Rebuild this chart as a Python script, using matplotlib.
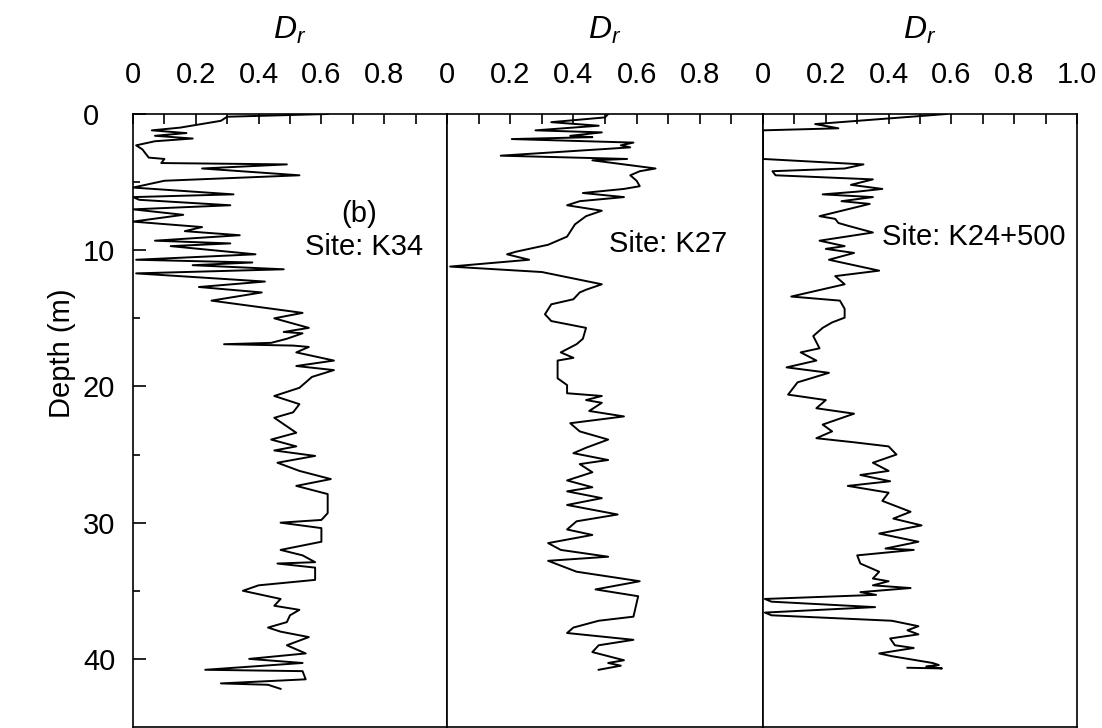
import matplotlib.pyplot as plt

plt.rcParams['font.family'] = ['Liberation Sans', 'DejaVu Sans']
plt.rcParams['mathtext.fontset'] = 'custom'
plt.rcParams['mathtext.it'] = 'Liberation Sans:italic'
plt.rcParams['mathtext.rm'] = 'Liberation Sans'

# Site K34 (depth in m, relative density Dr)
k34_depth = [0.0, 0.2, 0.5, 1.0, 1.2, 1.4, 1.6, 1.8, 2.0, 2.3, 2.6, 2.9, 3.2, 3.3, 3.6, 3.7,
             4.0, 4.5, 4.9, 5.4, 5.9, 6.1, 6.3, 6.7, 7.0, 7.4, 7.9, 8.3, 8.6, 8.9, 9.3, 9.5,
             9.7, 10.3, 10.7, 10.9, 11.1, 11.4, 11.7, 12.3, 12.7, 13.1, 13.7, 14.6, 15.0, 15.7,
             16.0, 16.1, 16.5, 16.8, 16.9, 17.0, 17.1, 17.5, 18.1, 18.5, 18.8, 19.3, 20.1, 20.7,
             21.3, 21.9, 22.3, 23.4, 23.9, 24.4, 24.7, 25.1, 25.6, 26.2, 26.8, 27.3, 27.9, 29.3,
             29.8, 30.0, 30.4, 31.4, 32.0, 32.4, 32.9, 33.0, 33.3, 34.2, 34.6, 35.0, 35.2, 35.6,
             36.1, 36.4, 36.8, 37.3, 37.7, 38.0, 38.4, 39.0, 39.6, 40.0, 40.3, 40.8, 40.9, 41.5,
             41.8, 41.9, 42.2]
k34_dr = [0.62, 0.30, 0.28, 0.15, 0.06, 0.17, 0.07, 0.19, 0.07, 0.01, 0.03, 0.04, 0.05, 0.10, 0.09, 0.49,
          0.22, 0.53, 0.10, 0.0, 0.32, 0.0, 0.02, 0.31, 0.0, 0.16, 0.0, 0.22, 0.165, 0.34, 0.07, 0.31,
          0.12, 0.39, 0.01, 0.38, 0.19, 0.48, 0.01, 0.42, 0.21, 0.41, 0.25, 0.54, 0.45, 0.56,
          0.48, 0.54, 0.49, 0.44, 0.29, 0.51, 0.56, 0.52, 0.64, 0.52, 0.64, 0.57, 0.53, 0.45,
          0.53, 0.51, 0.45, 0.52, 0.44, 0.52, 0.45, 0.58, 0.46, 0.53, 0.63, 0.52, 0.62, 0.62,
          0.60, 0.47, 0.60, 0.60, 0.47, 0.54, 0.58, 0.46, 0.58, 0.58, 0.40, 0.35, 0.39, 0.47,
          0.45, 0.53, 0.50, 0.49, 0.43, 0.47, 0.56, 0.49, 0.55, 0.37, 0.54, 0.23, 0.54, 0.55,
          0.28, 0.43, 0.47]

# Site K27
k27_depth = [0.0, 0.25, 0.6, 0.86, 1.2, 1.35, 1.6, 1.7, 1.84, 2.1, 2.3, 2.45, 3.06, 3.3, 3.4, 4.0,
             4.2, 4.5, 4.9, 5.3, 5.5, 5.8, 6.1, 6.4, 6.7, 7.1, 7.5, 8.1, 9.0, 9.6, 10.1, 10.3,
             10.7, 11.2, 11.6, 12.5, 12.9, 13.1, 13.6, 13.97, 14.7, 15.2, 15.7, 16.5, 16.9, 17.5,
             17.9, 18.1, 19.4, 19.9, 20.5, 20.7, 21.0, 21.2, 21.8, 22.2, 22.7, 23.3, 23.9, 24.5,
             24.9, 25.4, 25.7, 26.3, 26.9, 27.4, 27.7, 28.2, 28.7, 29.4, 29.9, 30.5, 30.9, 31.5,
             32.0, 32.5, 32.8, 33.6, 34.3, 34.9, 35.4, 36.9, 37.2, 37.7, 38.1, 38.6, 39.0, 39.5,
             40.1, 40.3, 40.5, 40.8]
k27_dr = [0.51, 0.50, 0.33, 0.48, 0.28, 0.49, 0.39, 0.46, 0.205, 0.59, 0.55, 0.58, 0.17, 0.57, 0.46, 0.66,
          0.61, 0.58, 0.60, 0.61, 0.56, 0.43, 0.56, 0.42, 0.38, 0.49, 0.44, 0.405, 0.38, 0.32, 0.22, 0.19,
          0.26, 0.01, 0.30, 0.49, 0.44, 0.42, 0.40, 0.33, 0.31, 0.33, 0.44, 0.43, 0.41, 0.36,
          0.40, 0.35, 0.35, 0.38, 0.38, 0.49, 0.44, 0.49, 0.45, 0.56, 0.39, 0.42, 0.51, 0.44,
          0.40, 0.51, 0.42, 0.46, 0.38, 0.46, 0.38, 0.49, 0.38, 0.54, 0.41, 0.38, 0.46, 0.32,
          0.36, 0.51, 0.32, 0.41, 0.61, 0.47, 0.605, 0.59, 0.48, 0.40, 0.38, 0.59, 0.48, 0.46,
          0.56, 0.51, 0.55, 0.48]

# Site K24+500
k24_depth = [0.0, 0.74, 1.05, 1.2, 3.3, 3.7, 4.0, 4.2, 4.5, 4.8, 5.2, 5.5, 5.7, 5.9, 6.1, 6.4,
             6.6, 7.5, 7.7, 8.0, 8.2, 8.7, 9.3, 9.7, 9.9, 10.2, 10.7, 11.5, 11.9, 12.5, 13.4, 13.7,
             14.3, 14.95, 15.3, 15.7, 16.3, 17.2, 17.5, 18.1, 18.6, 19.0, 19.7, 20.6, 21.0, 21.6,
             22.0, 22.8, 23.3, 23.8, 24.1, 24.4, 25.0, 25.6, 26.2, 26.5, 26.96, 27.3, 27.8, 28.4,
             29.2, 29.7, 30.2, 30.8, 31.4, 31.9, 32.0, 32.4, 33.0, 33.6, 34.1, 34.3, 34.6, 34.8,
             35.1, 35.3, 35.6, 35.8, 36.2, 36.6, 36.8, 37.2, 37.6, 37.9, 38.2, 38.5, 39.0, 39.2,
             39.6, 39.8, 40.3, 40.45, 40.55, 40.7, 40.65]
k24_dr = [0.585, 0.166, 0.24, 0.0, 0.0, 0.32, 0.26, 0.03, 0.04, 0.35, 0.28, 0.38, 0.30, 0.19, 0.35, 0.25,
          0.34, 0.18, 0.23, 0.24, 0.27, 0.35, 0.18, 0.26, 0.20, 0.29, 0.21, 0.37, 0.23, 0.26, 0.09, 0.245,
          0.26, 0.26, 0.22, 0.19, 0.16, 0.18, 0.12, 0.17, 0.075, 0.21, 0.11, 0.08, 0.20, 0.17,
          0.29, 0.19, 0.22, 0.17, 0.29, 0.40, 0.425, 0.35, 0.40, 0.31, 0.405, 0.27, 0.40, 0.38,
          0.47, 0.415, 0.505, 0.37, 0.495, 0.39, 0.48, 0.30, 0.31, 0.37, 0.35, 0.40, 0.35, 0.47,
          0.31, 0.36, 0.006, 0.027, 0.357, 0.006, 0.027, 0.41, 0.495, 0.46, 0.495, 0.405, 0.42, 0.48,
          0.37, 0.41, 0.54, 0.56, 0.52, 0.57, 0.46]

depth_ticks = [0, 10, 20, 30, 40]
dr_ticks = [0, 0.2, 0.4, 0.6, 0.8, 1.0]
dr_labels = ['0', '0.2', '0.4', '0.6', '0.8', '1.0']

sites = [
    (k34_depth, k34_dr, 'Site: K34'),
    (k27_depth, k27_dr, 'Site: K27'),
    (k24_depth, k24_dr, 'Site: K24+500'),
]

W, H = 1102, 728
fig = plt.figure(figsize=(W / 100, H / 100), dpi=100)
edges = [133, 447, 763, 1077]
top_px, bot_px = 114, 727

axes = []
for i, (depth, dr, name) in enumerate(sites):
    l, r = edges[i], edges[i + 1]
    ax = fig.add_axes([l / W, 1 - bot_px / H, (r - l) / W, (bot_px - top_px) / H])
    ax.plot(dr, depth, color='black', lw=1.4)
    ax.set_xlim(0, 1.0)
    ax.set_ylim(45, 0)
    for s in ax.spines.values():
        s.set_linewidth(1.2)

    # x axis on top
    ax.xaxis.tick_top()
    ax.xaxis.set_label_position('top')
    n = 6 if i == 2 else 5
    ax.set_xticks(dr_ticks[:n])
    ax.set_xticklabels(dr_labels[:n])
    ax.set_xticks([0.1, 0.3, 0.5, 0.7, 0.9] + ([] if i == 2 else [1.0]), minor=True)
    ax.tick_params(axis='x', which='both', direction='in', length=7, width=1.2,
                   labelsize=21, pad=18, top=True, bottom=False)
    ax.set_xlabel('$D_r$', fontsize=23, labelpad=16)

    if i == 0:
        ax.set_yticks(depth_ticks)
        ax.set_yticks([5, 15, 25, 35], minor=True)
        ax.tick_params(axis='y', which='major', direction='in', length=9, width=1.2,
                       labelsize=21, pad=36)
        ax.tick_params(axis='y', which='minor', direction='in', length=5, width=1.2)
        for lab in ax.get_yticklabels():
            lab.set_horizontalalignment('left')
        ax.set_ylabel('Depth (m)', fontsize=21)
        ax.yaxis.set_label_coords(-0.18, 0.61)
    else:
        ax.set_yticks([])
    axes.append(ax)

axes[0].text(0.72, 7.35, '(b)', fontsize=21, ha='center', va='center')
axes[0].text(0.735, 9.8, 'Site: K34', fontsize=21, ha='center', va='center')
axes[1].text(0.70, 9.55, 'Site: K27', fontsize=21, ha='center', va='center')
axes[2].text(0.38, 9.0, 'Site: K24+500', fontsize=21, ha='left', va='center')

fig.savefig('out.png', dpi=100)
